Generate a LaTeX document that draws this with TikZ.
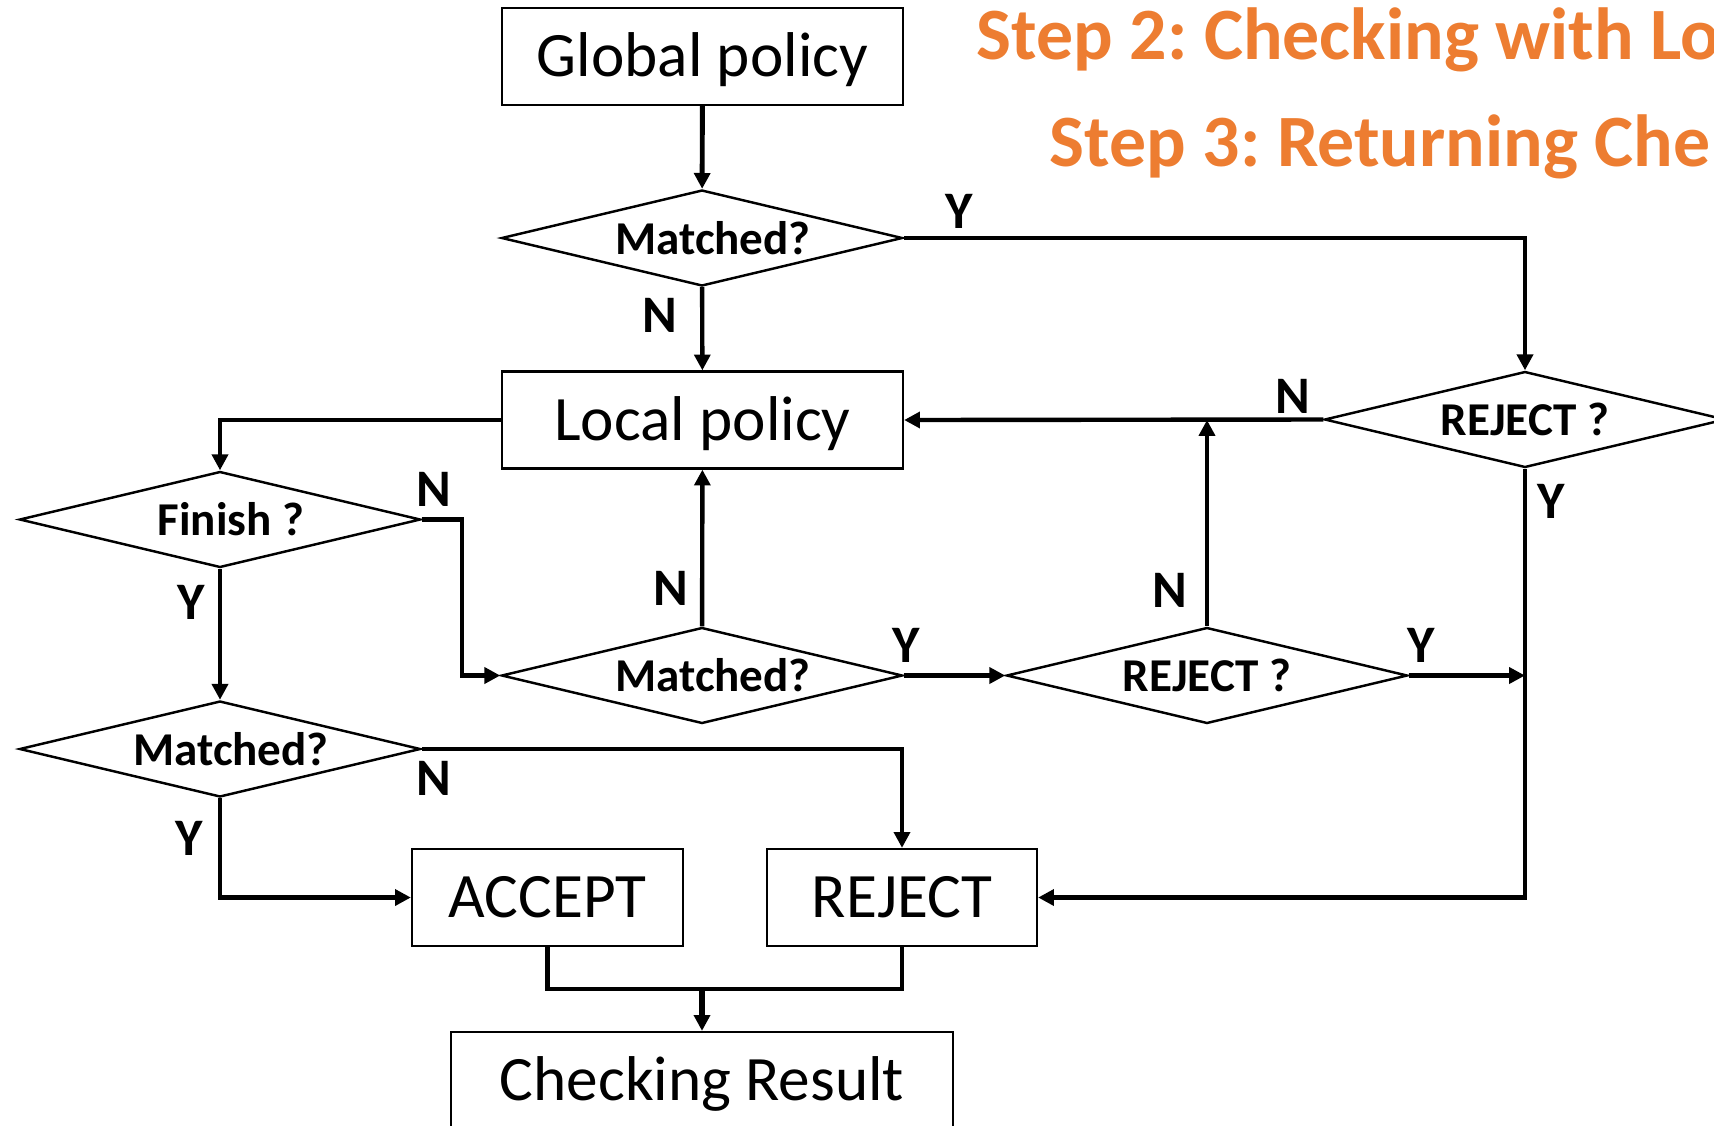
\documentclass[tikz,border=0pt]{standalone}
\usepackage{fontspec}
\setmainfont{Carlito}
\usetikzlibrary{shapes.geometric,arrows.meta}
\definecolor{steporange}{RGB}{237,125,49}
\frenchspacing
% diamond text sits a little right of centre
\newcommand{\offtext}[1]{\makebox[0pt]{\hspace{0.22cm}#1}}

\begin{document}
\begin{tikzpicture}[
  box/.style={draw, line width=0.65pt, minimum width=4.01cm, minimum height=0.97cm, inner sep=0pt, text height=15pt, text depth=3.5pt, font=\fontsize{18}{20}\selectfont},
  decision/.style={draw, diamond, aspect=4.17, line width=0.7pt, minimum width=4.01cm, minimum height=0.96cm, inner sep=0pt, font=\fontsize{13.4}{15}\selectfont\bfseries},
  yn/.style={inner sep=0pt, font=\fontsize{15}{17}\selectfont\bfseries},
  steptext/.style={anchor=west, inner sep=0pt, text=steporange, font=\fontsize{21}{24}\selectfont\bfseries},
  flow/.style={line width=1.25pt, -{Triangle[length=4.5pt,width=4.5pt]}},
  link/.style={line width=1.25pt}]
  \useasboundingbox (0,0) rectangle (17.14,-11.25);

  % step titles (cut at the right edge)
  \node[steptext] (step2) at (9.76,-0.40) {Step 2: Checking with Lo};
  \node[steptext] (step3) at (10.49,-1.47) {Step 3: Returning Che};

  % boxes
  \node[box] (global) at (7.025,-0.565) {Global policy};
  \node[box] (local) at (7.025,-4.20) {Local policy};
  \node[box, minimum width=2.71cm] (accept) at (5.475,-8.975) {ACCEPT};
  \node[box, minimum width=2.70cm] (rejectbox) at (9.02,-8.975) {REJECT};
  \node[box, minimum width=5.02cm] (result) at (7.02,-10.805) {Checking Result};

  % decisions
  \node[decision] (match1) at (7.02,-2.38) {\offtext{Matched?}};
  \node[decision] (reject1) at (15.25,-4.195) {REJECT ?};
  \node[decision] (finish) at (2.20,-5.195) {\offtext{Finish ?}};
  \node[decision] (match2) at (7.02,-6.755) {\offtext{Matched?}};
  \node[decision] (reject2) at (12.07,-6.755) {REJECT ?};
  \node[decision] (match3) at (2.20,-7.49) {\offtext{Matched?}};

  % connectors
  \draw[flow, line width=1.4pt] (global) -- (match1);
  \draw[flow] (match1) -- (local);
  \draw[flow] (match1.east) -| (reject1.north);
  \draw[flow] (reject1.west) -- (local.east);
  \draw[flow] (reject1.south) |- (rejectbox.east);
  \draw[flow] (local.west) -| (finish.north);
  \draw[flow] (finish.east) -- ++(0.40,0) |- (match2.west);
  \draw[flow] (finish) -- (match3);
  \draw[flow] (match2) -- (local);
  \draw[flow] (match2) -- (reject2);
  \draw[flow] (reject2.north) -- (reject2.north |- local.east);
  \draw[flow] (reject2.east) -- (reject2.east -| reject1.south);
  \draw[flow] (match3.east) -| (rejectbox.north);
  \draw[flow] (match3.south) |- (accept.west);
  \coordinate (merge) at (7.02,-9.89);
  \draw[link] (accept.south) |- (merge) -| (rejectbox.south);
  \draw[flow, line width=1.5pt] (merge) -- (result.north);

  % Y / N labels
  \node[yn] (n1) at (6.60,-3.15) {N};
  \node[yn] (y1) at (9.59,-2.11) {Y};
  \node[yn] (n2) at (12.93,-3.96) {N};
  \node[yn] (y2) at (15.51,-5.01) {Y};
  \node[yn] (n3) at (4.34,-4.89) {N};
  \node[yn] (y3) at (1.91,-6.02) {Y};
  \node[yn] (n4) at (6.71,-5.88) {N};
  \node[yn] (y4) at (9.06,-6.45) {Y};
  \node[yn] (n5) at (11.70,-5.90) {N};
  \node[yn] (y5) at (14.21,-6.45) {Y};
  \node[yn] (n6) at (4.34,-7.78) {N};
  \node[yn] (y6) at (1.89,-8.38) {Y};
\end{tikzpicture}
\end{document}
